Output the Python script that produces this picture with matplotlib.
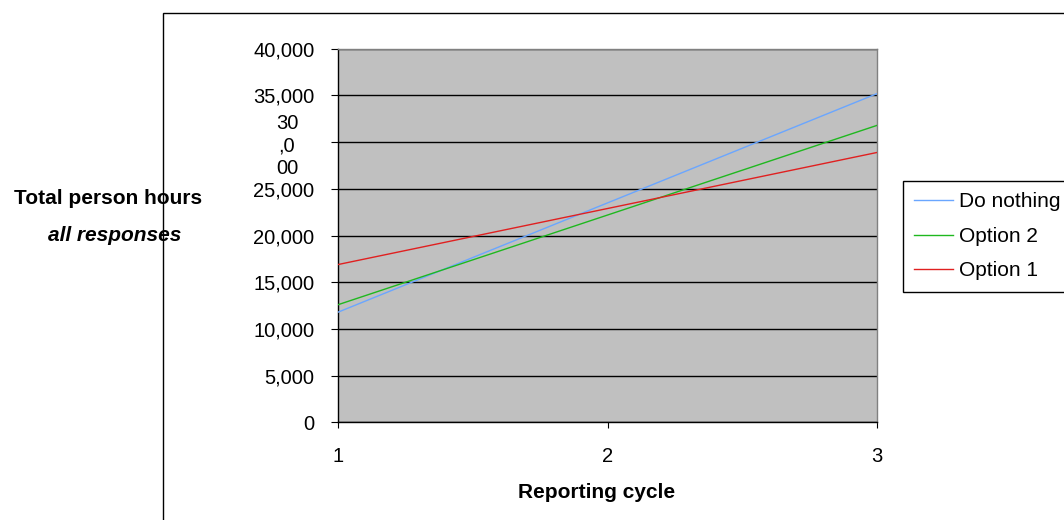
import matplotlib
matplotlib.use("Agg")
import matplotlib.pyplot as plt
from matplotlib.patches import Rectangle
from matplotlib.transforms import blended_transform_factory, offset_copy

plt.rcParams['font.family'] = ['Liberation Sans', 'DejaVu Sans']

cycles = [1, 2, 3]
do_nothing = [11800, 23500, 35200]
option2 = [12600, 22200, 31800]
option1 = [16900, 22900, 28900]
series_names = ["Do nothing", "Option 2", "Option 1"]
y_ticks = [0, 5000, 10000, 15000, 20000, 25000, 30000, 35000, 40000]
y_ticklabels = ["0", "5,000", "10,000", "15,000", "20,000", "25,000", "30\n,0\n00", "35,000", "40,000"]
x_ticklabels = ["1", "2", "3"]

W, H = 1064, 520
fig = plt.figure(figsize=(W / 100, H / 100), dpi=100)
fig.patch.set_facecolor('white')

def fx(px):
    return px / W

def fy(py):
    return 1 - py / H

ax = fig.add_axes([fx(338), fy(422.4), fx(877) - fx(338), fy(48.8) - fy(422.4)])
ax.set_facecolor('#c0c0c0')

colors = ['#6aa6ff', '#1fb81f', '#e02020']
for name, vals, c in zip(series_names, [do_nothing, option2, option1], colors):
    ax.plot(cycles, vals, color=c, lw=1.0, label=name, zorder=3)

ax.set_xlim(1, 3)
ax.set_ylim(0, 40000)
ax.set_xticks(cycles)
ax.set_xticklabels(x_ticklabels)
ax.set_yticks(y_ticks)
plain = [l if '\n' not in l else '' for l in y_ticklabels]
ax.set_yticklabels(plain)
ax.yaxis.grid(True, color='black', lw=1.0, zorder=1)
ax.set_axisbelow(True)

for s in ['left', 'bottom']:
    ax.spines[s].set_color('black')
    ax.spines[s].set_linewidth(1.0)
for s in ['top', 'right']:
    ax.spines[s].set_color('#808080')
    ax.spines[s].set_linewidth(1.0)

ax.tick_params(axis='y', direction='out', length=5, width=0.8, pad=12, labelsize=14.5, colors='black')
ax.tick_params(axis='x', direction='out', length=4.5, width=0.8, pad=13, labelsize=14.5, colors='black')

# wrapped 30,000 label (overflowing cell, bottom line partly hidden)
trans = offset_copy(blended_transform_factory(fig.transFigure, ax.transData),
                    fig=fig, y=-4, units='dots')
for v, l in zip(y_ticks, y_ticklabels):
    if '\n' in l:
        t = fig.text(fx(287), v, l, transform=trans, ha='center', va='center',
                     fontsize=14.5, linespacing=1.22, multialignment='center')
        clip = Rectangle((0, fy(174)), 1, 1, transform=fig.transFigure)
        t.set_clip_path(clip)

# axis titles
fig.text(fx(108), fy(199), "Total person hours", ha='center', va='center',
         fontsize=15, fontweight='bold')
fig.text(fx(115), fy(236), "all responses", ha='center', va='center',
         fontsize=15, fontweight='bold', fontstyle='italic')
fig.text(fx(597), fy(493), "Reporting cycle", ha='center', va='center',
         fontsize=15, fontweight='bold')

# outer chart border (extends beyond image)
border = Rectangle((fx(163), -0.2), 1.5, fy(13) + 0.2, transform=fig.transFigure,
                   fill=False, edgecolor='black', lw=1.0, zorder=5)
fig.add_artist(border)

leg = fig.legend(loc='upper left', bbox_to_anchor=(fx(903), fy(181)),
                 bbox_transform=fig.transFigure, fontsize=15, frameon=True,
                 fancybox=False, edgecolor='black', framealpha=1,
                 handlelength=1.85, handletextpad=0.3, borderpad=0.55,
                 labelspacing=0.74, borderaxespad=0)
leg.get_frame().set_linewidth(1.0)

fig.savefig('out.png', dpi=100, facecolor='white')
